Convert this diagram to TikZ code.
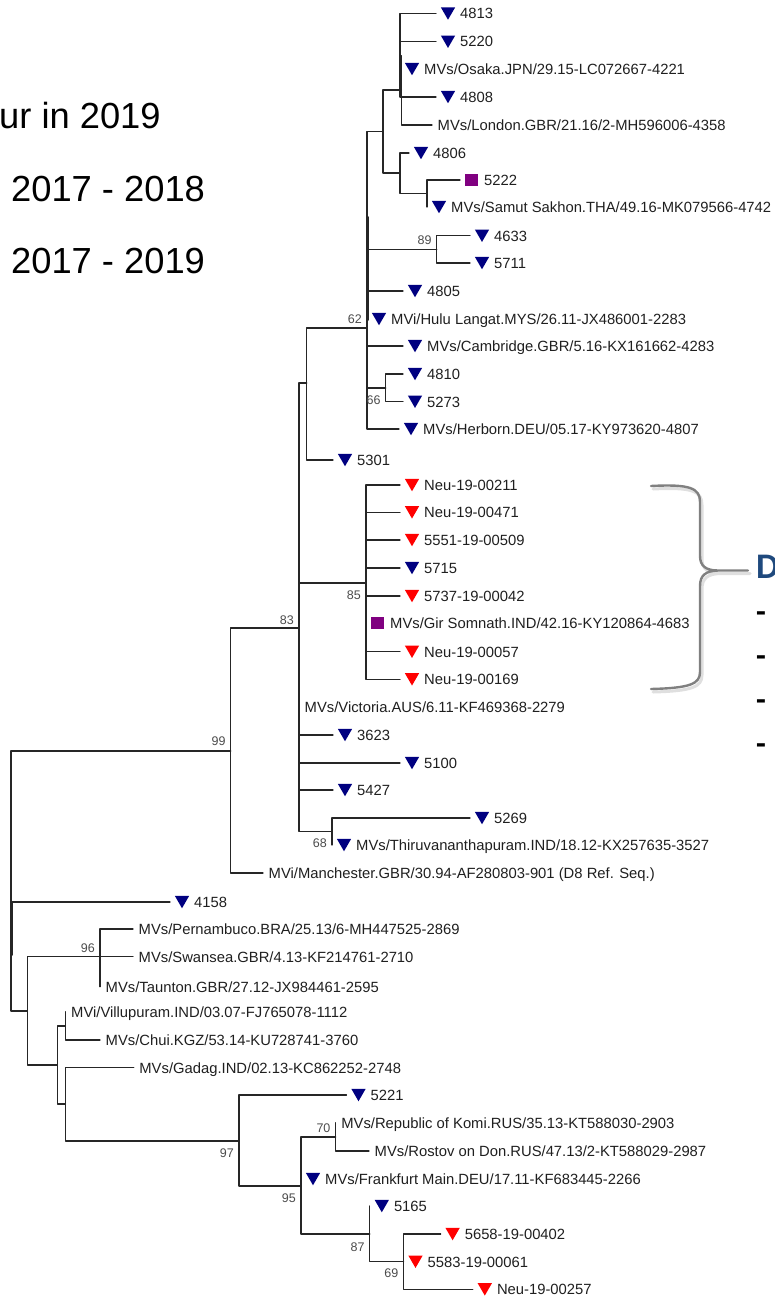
\documentclass[tikz,border=0pt]{standalone}
\usepackage{fontspec}
\setmainfont{Liberation Sans}
\newfontfamily\calib{Carlito}
\usetikzlibrary{shapes.geometric}
\definecolor{tnavy}{RGB}{0,0,128}
\definecolor{tred}{RGB}{255,0,0}
\definecolor{tpurple}{RGB}{128,0,128}
\definecolor{dblue}{RGB}{31,73,125}
\definecolor{bracegray}{RGB}{128,128,128}
\newcommand{\leaffont}{\fontsize{14.8}{16}\selectfont}
\newcommand{\bootfont}{\fontsize{12.5}{14}\selectfont}
\newcommand{\legfont}{\fontsize{36.3}{40}\selectfont}
\begin{document}
\begin{tikzpicture}[x=1pt,y=-1pt,line join=round,line cap=round,
	br/.style={line width=1.3pt,draw=black!85},
	dn/.style={regular polygon,regular polygon sides=3,shape border rotate=180,minimum size=16.5pt,inner sep=0pt,fill=#1,yshift=2pt},
	sq/.style={fill=tpurple,minimum width=13pt,minimum height=12pt,inner sep=0pt},
	lab/.style={anchor=base west,inner sep=0pt,font=\leaffont,text=black!88},
	bs/.style={anchor=base east,inner sep=0pt,font=\bootfont,text=black!70,xshift=-5pt},
	leg/.style={anchor=base west,inner sep=0pt,font=\legfont}]
	\useasboundingbox (0,0) rectangle (774,1297);
	% internal nodes
	\coordinate (nA1) at (400,55.3);
	\coordinate (nA) at (401.5,90);
	\coordinate (nB) at (400,173);
	\coordinate (nB2) at (427,193.5);
	\coordinate (nC) at (383,131.5);
	\coordinate (n89) at (436.7,249.4);
	\coordinate (n66) at (385.7,388);
	\coordinate (nD) at (367,328);
	\coordinate (nE) at (306.7,383);
	\coordinate (nF) at (299,628);
	\coordinate (n85) at (366,583);
	\coordinate (n68) at (332,831.5);
	\coordinate (nG) at (230.7,751);
	\coordinate (root) at (11,881);
	\coordinate (nH) at (27.5,1011);
	\coordinate (n96) at (100,956.7);
	\coordinate (nW) at (57.5,1065);
	\coordinate (nV) at (65.5,1026);
	\coordinate (nX) at (65.5,1104);
	\coordinate (nY) at (239,1141);
	\coordinate (nZ) at (301,1186);
	\coordinate (n70) at (335.6,1137);
	\coordinate (n87) at (369.8,1234);
	\coordinate (n69) at (403.5,1261.7);
	\foreach \a/\b in {nA/nA1,nC/nA,nC/nB,nB/nB2,nD/nC,nD/n89,nD/n66,nE/nD,nF/nE,nF/n85,nF/n68,nG/nF,root/nG,root/nH,nH/n96,nH/nW,nW/nV,nW/nX,nX/nY,nY/nZ,nZ/n70,nZ/n87,n87/n69}
	\draw[br] (\a) |- (\b);
	\draw[br] (nD) ++(1.2,-111) -- ++(0,103);
	\draw[br] (root) ++(1.2,21) -- ++(0,53);
	% leaves with triangles
	\foreach \pa/\nm/\tx/\ty/\mk/\txt in {
		nA1/l4813/436/13.5/tnavy/4813,
		nA1/l5220/436/41.7/tnavy/5220,
		nA1/lOsaka/400/69/tnavy/{MVs/Osaka.JPN/29.15-LC072667-4221},
		nA1/l4808/436/97/tnavy/4808,
		nB/l4806/409/153/tnavy/4806,
		nB2/lSamut/427/207/tnavy/{MVs/Samut Sakhon.THA/49.16-MK079566-4742},
		n89/l4633/470/235.7/tnavy/4633,
		n89/l5711/470/263/tnavy/5711,
		nD/l4805/403/291/tnavy/4805,
		nD/lHulu/367/319/tnavy/{MVi/Hulu Langat.MYS/26.11-JX486001-2283},
		nD/lCamb/403/346/tnavy/{MVs/Cambridge.GBR/5.16-KX161662-4283},
		n66/l4810/403/374/tnavy/4810,
		n66/l5273/403/401.7/tnavy/5273,
		nD/lHerb/399/429/tnavy/{MVs/Herborn.DEU/05.17-KY973620-4807},
		nE/l5301/333/460/tnavy/5301,
		n85/l00211/400/485/tred/Neu-19-00211,
		n85/l00471/400/512.3/tred/Neu-19-00471,
		n85/l00509/400/540/tred/5551-19-00509,
		n85/l5715/400/568/tnavy/5715,
		n85/l00042/400/596/tred/5737-19-00042,
		n85/l00057/400/651.7/tred/Neu-19-00057,
		n85/l00169/400/679.3/tred/Neu-19-00169,
		nF/l3623/333/735/tnavy/3623,
		nF/l5100/400/763/tnavy/5100,
		nF/l5427/333/790/tnavy/5427,
		n68/l5269/470/818/tnavy/5269,
		n68/lThiru/332/845/tnavy/{MVs/Thiruvananthapuram.IND/18.12-KX257635-3527},
		root/l4158/170/902/tnavy/4158,
		nY/l5221/346.5/1095/tnavy/5221,
		nZ/lFrank/301/1179/tnavy/{MVs/Frankfurt Main.DEU/17.11-KF683445-2266},
		n87/l5165/369.8/1206/tnavy/5165,
		n69/l00402/440.6/1234/tred/5658-19-00402,
		n69/l00061/403.5/1261.7/tred/5583-19-00061,
		n69/l00257/472.8/1289.3/tred/Neu-19-00257}{
		\coordinate (\nm) at (\tx,\ty);
		\draw[br] (\pa) |- (\nm);
		\node[dn=\mk] (m\nm) at ([xshift=12pt]\nm) {};
		\node[lab] (t\nm) at ([xshift=24pt,yshift=-5.3pt]\nm) {\txt};
	}
	% leaves with squares
	\foreach \pa/\nm/\tx/\ty/\txt in {nB2/l5222/460/180/5222,n85/lGir/366/623.3/{MVs/Gir Somnath.IND/42.16-KY120864-4683}}{
		\coordinate (\nm) at (\tx,\ty);
		\draw[br] (\pa) |- (\nm);
		\node[sq] (m\nm) at ([xshift=11.5pt]\nm) {};
		\node[lab] (t\nm) at ([xshift=24pt,yshift=-5.3pt]\nm) {\txt};
	}
	% leaves without marker
	\foreach \pa/\nm/\tx/\ty/\txt in {
		nA/lLondon/432/125/{MVs/London.GBR/21.16/2-MH596006-4358},
		nF/lVict/299/707/{MVs/Victoria.AUS/6.11-KF469368-2279},
		nG/lManch/263/873/{MVi/Manchester.GBR/30.94-AF280803-901 (D8 Ref. Seq.)},
		n96/lPern/133/929/{MVs/Pernambuco.BRA/25.13/6-MH447525-2869},
		n96/lSwan/133/956.7/{MVs/Swansea.GBR/4.13-KF214761-2710},
		n96/lTaun/100/986.7/{MVs/Taunton.GBR/27.12-JX984461-2595},
		nV/lVill/65.5/1011.7/{MVi/Villupuram.IND/03.07-FJ765078-1112},
		nV/lChui/100/1040/{MVs/Chui.KGZ/53.14-KU728741-3760},
		nX/lGadag/133.7/1067.7/{MVs/Gadag.IND/02.13-KC862252-2748},
		n70/lKomi/335.6/1122.7/{MVs/Republic of Komi.RUS/35.13-KT588030-2903},
		n70/lRost/369/1151/{MVs/Rostov on Don.RUS/47.13/2-KT588029-2987}}{
		\coordinate (\nm) at (\tx,\ty);
		\draw[br] (\pa) |- (\nm);
		\node[lab] (t\nm) at ([xshift=5.5pt,yshift=-5.3pt]\nm) {\txt};
	}
	% bootstrap values
	\foreach \n/\v/\dy in {nD/62/5,n89/89/5,n66/66/-16,n85/85/-16,nF/83/4,nG/99/6,n68/68/-16,n96/96/4.5,nY/97/-16,nZ/95/-16,n70/70/4.5,n87/87/-17,n69/69/-15.5}
	\node[bs,yshift=\dy pt] (b\v) at (\n) {\v};
	% legend
	\node[leg] (leg1) at (-1,128.3) {ur in 2019};
	\node[leg] (leg2) at (11,201.7) {2017 - 2018};
	\node[leg] (leg3) at (11,273.3) {2017 - 2019};
	% brace and note
	\draw[gray!25,line width=3pt,shift={(2,3)}] (651,486) .. controls (690,484) and (700,488) .. (700,502) -- (700,556) .. controls (700,566) and (706,570.5) .. (718,570.5) -- (748,570.5) -- (718,570.5) .. controls (706,571) and (700,575) .. (700,586) -- (700,672) .. controls (700,684) and (690,688) .. (651,689);
	\draw[bracegray,line width=2.4pt] (651,486) .. controls (690,484) and (700,488) .. (700,502) -- (700,556) .. controls (700,566) and (706,570.5) .. (718,570.5) -- (748,570.5) -- (718,570.5) .. controls (706,571) and (700,575) .. (700,586) -- (700,672) .. controls (700,684) and (690,688) .. (651,689);
	\node[anchor=base west,inner sep=0pt,font=\calib\bfseries\fontsize{36}{40}\selectfont,text=dblue] (dtitle) at (756,578) {D};
	\foreach \y [count=\i] in {614,658,701.7,746}
	\node[anchor=base west,inner sep=0pt,font=\calib\bfseries\fontsize{32}{36}\selectfont] (dash\i) at (756,\y+8.5) {-};
\end{tikzpicture}
\end{document}
